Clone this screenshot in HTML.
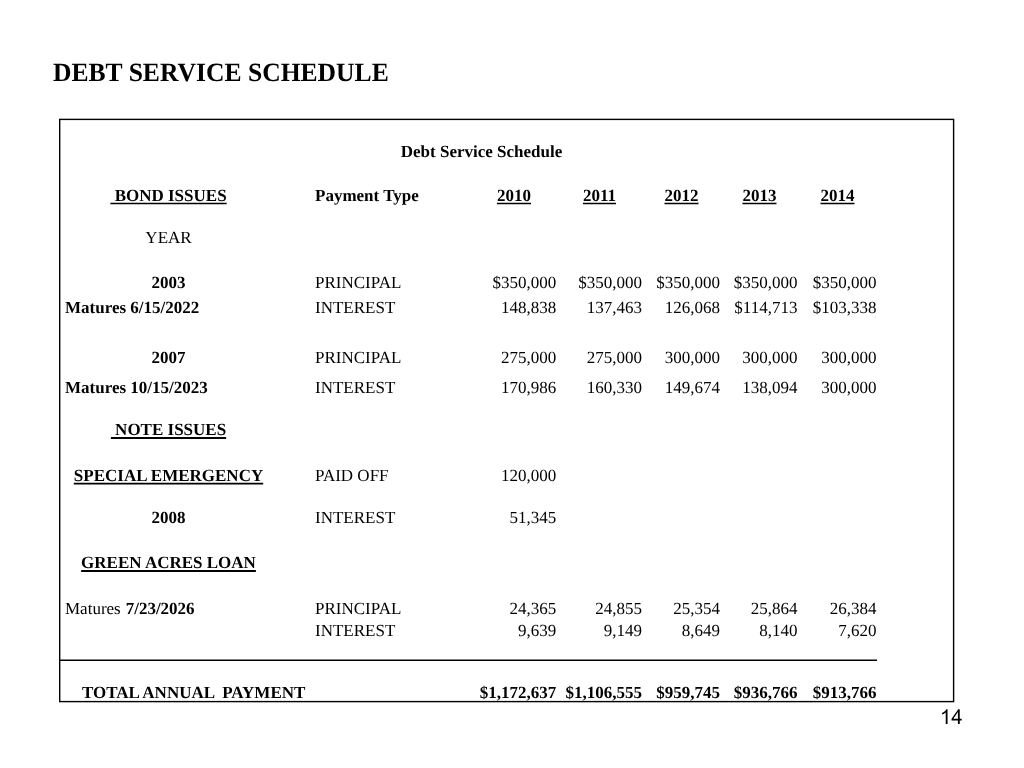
<!DOCTYPE html>
<html><head><meta charset="utf-8"><title>Debt Service Schedule</title>
<style>
html,body{margin:0;padding:0;background:#fff;}
body{width:1024px;height:768px;position:relative;overflow:hidden;font-family:"Liberation Serif",serif;color:#000;text-rendering:geometricPrecision;}
.t{position:absolute;white-space:nowrap;font-size:17px;line-height:20px;height:20px;}
.b{font-weight:bold;}
.n{font-weight:normal;}
.c{transform:translateX(-50%);}
.r{transform:translateX(-100%);}
u{text-decoration:none;}
#title{position:absolute;left:53px;top:58px;font-size:25.6px;line-height:30px;font-weight:bold;white-space:nowrap;transform:scaleY(1.03);transform-origin:0 23px;}
#lines{position:absolute;left:0;top:0;}
#w{position:absolute;left:0;top:0;width:1024px;height:768px;will-change:transform;}
</style></head><body><div id="w">
<div id="title">DEBT SERVICE SCHEDULE</div>
<svg id="lines" width="1024" height="768" viewBox="0 0 1024 768">
<rect x="59.7" y="119.4" width="893.9" height="582.2" fill="none" stroke="#000" stroke-width="1.4"/>
<line x1="60" y1="660.3" x2="877" y2="660.3" stroke="#000" stroke-width="1.4"/>
<line x1="110.39" y1="203.50" x2="226.61" y2="203.50" stroke="#000" stroke-width="1.5"/>
<line x1="497.00" y1="203.50" x2="531.00" y2="203.50" stroke="#000" stroke-width="1.5"/>
<line x1="582.97" y1="203.50" x2="616.03" y2="203.50" stroke="#000" stroke-width="1.5"/>
<line x1="664.50" y1="203.50" x2="698.50" y2="203.50" stroke="#000" stroke-width="1.5"/>
<line x1="742.50" y1="203.50" x2="776.50" y2="203.50" stroke="#000" stroke-width="1.5"/>
<line x1="820.50" y1="203.50" x2="854.50" y2="203.50" stroke="#000" stroke-width="1.5"/>
<line x1="110.86" y1="438.00" x2="226.14" y2="438.00" stroke="#000" stroke-width="1.85"/>
<line x1="73.80" y1="483.60" x2="263.20" y2="483.60" stroke="#000" stroke-width="1.6"/>
<line x1="81.12" y1="571.00" x2="255.88" y2="571.00" stroke="#000" stroke-width="1.85"/>
<g transform="translate(939.9,723.9) scale(0.01001,-0.01001)" fill="#000">
<path d="M763 0H583V1147Q518 1085 412.5 1023Q307 961 223 930V1104Q374 1175 487 1276Q600 1377 647 1472H763Z"/>
<path transform="translate(1139,0)" d="M662 0V351H26V516L695 1466H842V516H1040V351H842V0ZM662 516V1177L203 516Z"/>
</g>
</svg>
<div class="t b c" style="left:481.5px;top:142px">Debt Service Schedule</div>
<div class="t b c" style="left:168.5px;top:186px"><u>&nbsp;BOND ISSUES</u></div>
<div class="t b" style="left:315px;top:186px">Payment Type</div>
<div class="t b c" style="left:514px;top:186px"><u>2010</u></div>
<div class="t b c" style="left:599.5px;top:186px"><u>2011</u></div>
<div class="t b c" style="left:681.5px;top:186px"><u>2012</u></div>
<div class="t b c" style="left:759.5px;top:186px"><u>2013</u></div>
<div class="t b c" style="left:837.5px;top:186px"><u>2014</u></div>
<div class="t c" style="left:168.5px;top:228px">YEAR</div>
<div class="t b c" style="left:168.5px;top:273px">2003</div>
<div class="t" style="left:315px;top:273px">PRINCIPAL</div>
<div class="t r" style="left:556.2px;top:273px">$350,000</div>
<div class="t r" style="left:642px;top:273px">$350,000</div>
<div class="t r" style="left:720px;top:273px">$350,000</div>
<div class="t r" style="left:797.4px;top:273px">$350,000</div>
<div class="t r" style="left:876.4px;top:273px">$350,000</div>
<div class="t b" style="left:65px;top:298px">Matures 6/15/2022</div>
<div class="t" style="left:315px;top:298px">INTEREST</div>
<div class="t r" style="left:556.2px;top:298px">148,838</div>
<div class="t r" style="left:642px;top:298px">137,463</div>
<div class="t r" style="left:720px;top:298px">126,068</div>
<div class="t r" style="left:797.4px;top:298px">$114,713</div>
<div class="t r" style="left:876.4px;top:298px">$103,338</div>
<div class="t b c" style="left:168.5px;top:348px">2007</div>
<div class="t" style="left:315px;top:348px">PRINCIPAL</div>
<div class="t r" style="left:556.2px;top:348px">275,000</div>
<div class="t r" style="left:642px;top:348px">275,000</div>
<div class="t r" style="left:720px;top:348px">300,000</div>
<div class="t r" style="left:797.4px;top:348px">300,000</div>
<div class="t r" style="left:876.4px;top:348px">300,000</div>
<div class="t b" style="left:65px;top:378px">Matures 10/15/2023</div>
<div class="t" style="left:315px;top:378px">INTEREST</div>
<div class="t r" style="left:556.2px;top:378px">170,986</div>
<div class="t r" style="left:642px;top:378px">160,330</div>
<div class="t r" style="left:720px;top:378px">149,674</div>
<div class="t r" style="left:797.4px;top:378px">138,094</div>
<div class="t r" style="left:876.4px;top:378px">300,000</div>
<div class="t b c" style="left:168.5px;top:420px"><u>&nbsp;NOTE ISSUES</u></div>
<div class="t b c" style="left:168.5px;top:466px"><u>SPECIAL EMERGENCY</u></div>
<div class="t" style="left:315px;top:466px">PAID OFF</div>
<div class="t r" style="left:556.2px;top:466px">120,000</div>
<div class="t b c" style="left:168.5px;top:508px">2008</div>
<div class="t" style="left:315px;top:508px">INTEREST</div>
<div class="t r" style="left:556.2px;top:508px">51,345</div>
<div class="t b c" style="left:168.5px;top:553px"><u>GREEN ACRES LOAN</u></div>
<div class="t b" style="left:65px;top:599px"><span class="n">Matures </span><span style="margin-left:0.7px">7/23/2026</span></div>
<div class="t" style="left:315px;top:599px">PRINCIPAL</div>
<div class="t r" style="left:556.2px;top:599px">24,365</div>
<div class="t r" style="left:642px;top:599px">24,855</div>
<div class="t r" style="left:720px;top:599px">25,354</div>
<div class="t r" style="left:797.4px;top:599px">25,864</div>
<div class="t r" style="left:876.4px;top:599px">26,384</div>
<div class="t" style="left:315px;top:621px">INTEREST</div>
<div class="t r" style="left:556.2px;top:621px">9,639</div>
<div class="t r" style="left:642px;top:621px">9,149</div>
<div class="t r" style="left:720px;top:621px">8,649</div>
<div class="t r" style="left:797.4px;top:621px">8,140</div>
<div class="t r" style="left:876.4px;top:621px">7,620</div>
<div class="t b" style="left:82px;top:683px">TOTAL ANNUAL&nbsp; <span style="margin-left:-1.3px">PAYMENT</span></div>
<div class="t b r" style="left:556.2px;top:683px">$1,172,637</div>
<div class="t b r" style="left:642px;top:683px">$1,106,555</div>
<div class="t b r" style="left:720px;top:683px">$959,745</div>
<div class="t b r" style="left:797.4px;top:683px">$936,766</div>
<div class="t b r" style="left:876.4px;top:683px">$913,766</div>
</div></body></html>
